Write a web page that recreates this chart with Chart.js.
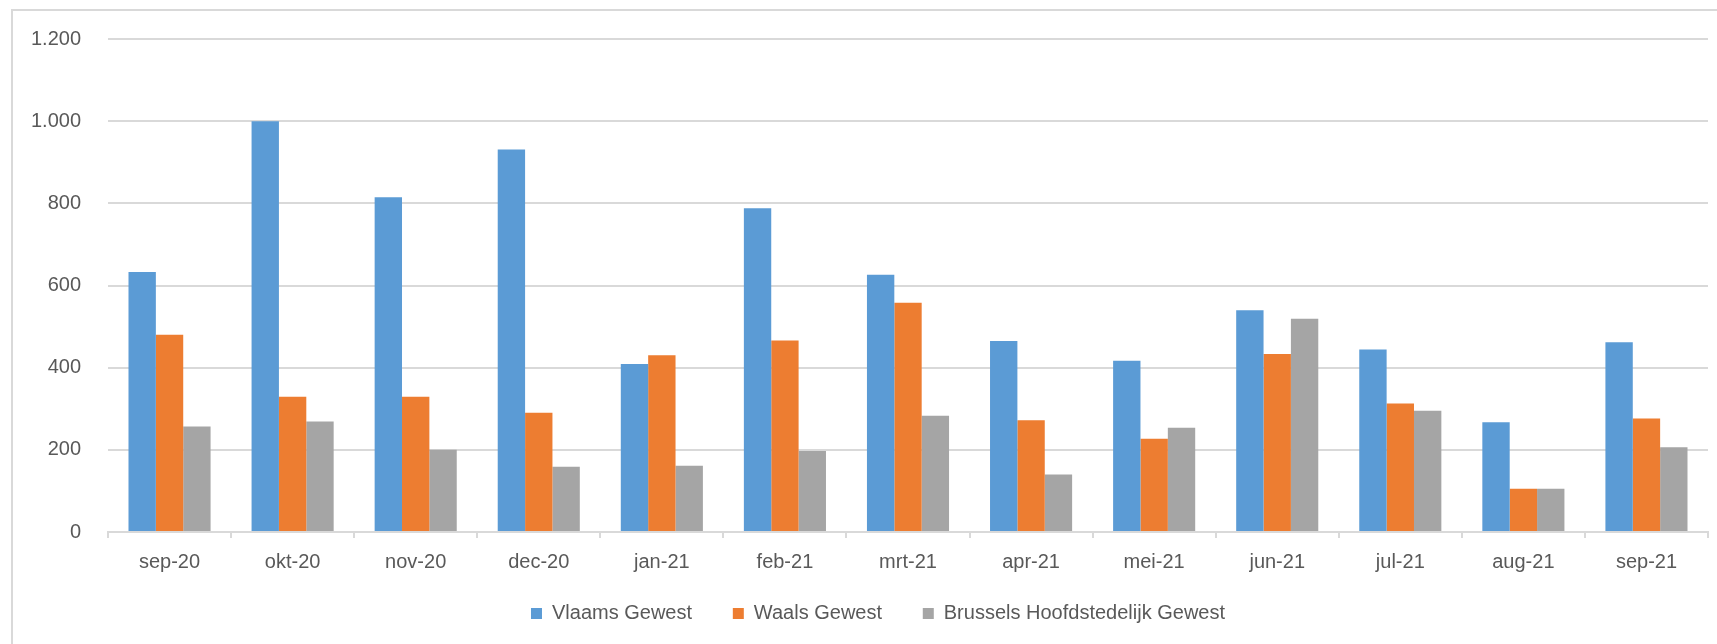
<!DOCTYPE html>
<html>
<head>
<meta charset="utf-8">
<script src="https://cdn.jsdelivr.net/npm/chart.js@4/dist/chart.umd.min.js"></script>
<style>
    html, body { margin: 0; padding: 0; background: #fff; }
    #wrap { position: absolute; left: 0; top: 0; width: 1717px; height: 644px; }
    #frame {
        position: absolute; left: 11px; top: 9px; right: -5px; bottom: -5px;
        border-left: 2px solid #d9d9d9; border-top: 2px solid #d9d9d9;
        pointer-events: none;
    }
</style>
</head>
<body>
<div id="wrap">
    <canvas id="regioChart" width="1717" height="644"></canvas>
    <div id="frame"></div>
</div>
<script>
    // maanden (x-as)
    const maanden = ['sep-20', 'okt-20', 'nov-20', 'dec-20', 'jan-21', 'feb-21', 'mrt-21',
                     'apr-21', 'mei-21', 'jun-21', 'jul-21', 'aug-21', 'sep-21'];

    // waarden per gewest
    const vlaams   = [633, 1000, 815, 931, 409, 788, 626, 465, 417, 540, 444, 267, 462];
    const waals    = [480, 329, 329, 290, 430, 466, 558, 272, 227, 433, 313, 105, 276];
    const brussels = [257, 269, 200, 159, 161, 197, 283, 140, 254, 519, 295, 105, 206];

    const reeksNamen = ['Vlaams Gewest', 'Waals Gewest', 'Brussels Hoofdstedelijk Gewest'];
    const kleuren = ['#5B9BD5', '#ED7D31', '#A5A5A5'];

    // Y-as: 0 t/m 1.200 in stappen van 200
    const yMin = 0, yMax = 1200, yStap = 200;

    // duizendtallen met een punt, zoals in Excel (nl-BE)
    function formatGetal(v) {
        return String(v).replace(/\B(?=(\d{3})+(?!\d))/g, '.');
    }

    // legenda: extra ruimte achter elk item behalve het laatste
    function legendaLabels(chart) {
        const items = Chart.defaults.plugins.legend.labels.generateLabels(chart);
        items.forEach((item, i) => {
            if (i < items.length - 1) item.text += '     ';
        });
        return items;
    }

    // legenda iets naar rechts schuiven, zoals in het origineel
    const legendaVerschuiving = {
        id: 'legendaVerschuiving',
        afterLayout(chart) {
            if (!chart.legend) return;
            chart.legend.left += 18;
            chart.legend.right += 18;
        }
    };

    const tekstKleur = '#595959';
    const lijnKleur = '#d9d9d9';
    const lettertype = 'Liberation Sans';

    const ctx = document.getElementById('regioChart').getContext('2d');
    new Chart(ctx, {
        type: 'bar',
        data: {
            labels: maanden,
            datasets: [vlaams, waals, brussels].map((reeks, i) => ({
                label: reeksNamen[i],
                data: reeks,
                backgroundColor: kleuren[i],
                borderWidth: 0,
                categoryPercentage: 0.667,
                barPercentage: 1.0
            }))
        },
        options: {
            responsive: false,
            animation: false,
            layout: { padding: { left: 12, right: 9, top: 38, bottom: 10.5 } },
            plugins: {
                tooltip: { enabled: false },
                legend: {
                    position: 'bottom',
                    labels: {
                        color: tekstKleur,
                        font: { family: lettertype, size: 20 },
                        boxWidth: 11,
                        boxHeight: 11,
                        padding: 13,
                        generateLabels: legendaLabels
                    }
                }
            },
            scales: {
                x: {
                    grid: {
                        offset: true,
                        drawOnChartArea: false,
                        color: lijnKleur,
                        lineWidth: 2,
                        tickLength: 6
                    },
                    border: { color: lijnKleur, width: 2 },
                    ticks: {
                        color: tekstKleur,
                        font: { family: lettertype, size: 20 },
                        padding: 12,
                        maxRotation: 0
                    },
                    afterFit: s => { s.height = 58.5; }
                },
                y: {
                    min: yMin,
                    max: yMax,
                    grid: { color: lijnKleur, lineWidth: 2, drawTicks: false },
                    border: { display: false },
                    ticks: {
                        stepSize: yStap,
                        color: tekstKleur,
                        font: { family: lettertype, size: 20 },
                        padding: 27,
                        callback: v => formatGetal(v)
                    },
                    afterFit: s => { s.width = 96; }
                }
            }
        },
        plugins: [legendaVerschuiving]
    });
</script>
</body>
</html>
